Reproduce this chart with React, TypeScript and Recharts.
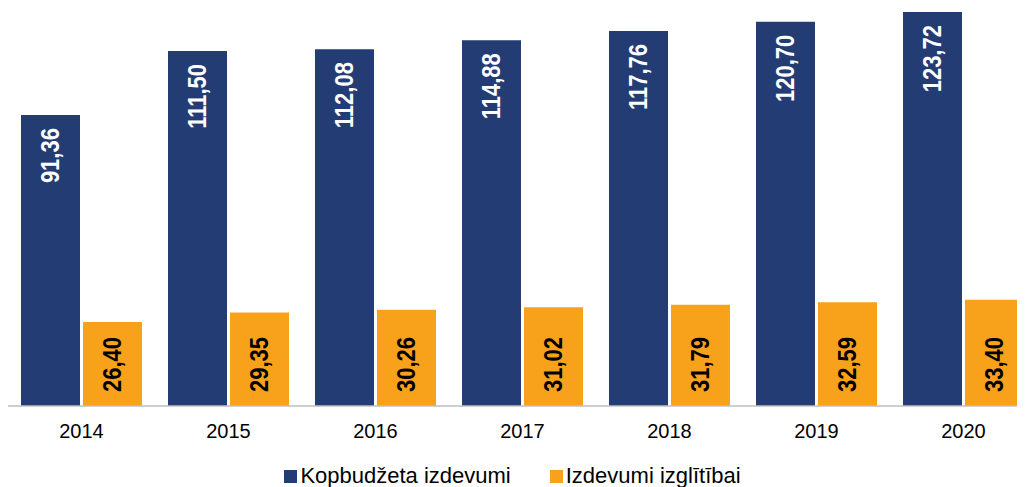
import { BarChart, Bar, XAxis, YAxis, LabelList } from 'recharts';

const years = ['2014', '2015', '2016', '2017', '2018', '2019', '2020'];
const kopbudzets = [91.36, 111.5, 112.08, 114.88, 117.76, 120.7, 123.72];
const izglitiba = [26.4, 29.35, 30.26, 31.02, 31.79, 32.59, 33.4];

const NAVY = '#243c74';
const ORANGE = '#f8a21c';
const FONT = '"Liberation Sans", Arial, sans-serif';

const data = years.map((year, i) => ({
  year,
  kop: kopbudzets[i],
  izg: izglitiba[i],
}));

const fmt = (v: number) => v.toFixed(2).replace('.', ',');

// rotated value label, glyphs slightly widened like the original
const RotLabel = ({ cx, ay, anchor, color, value }: any) => (
  <text
    x={0}
    y={0}
    transform={`translate(${cx} ${ay}) rotate(-90) scale(1 1.15)`}
    textAnchor={anchor}
    dominantBaseline="central"
    fill={color}
    fontSize={22}
    fontWeight="bold"
    fontFamily={FONT}
  >
    {fmt(value)}
  </text>
);

// label near the top of the navy bar
const TopLabel = (props: any) => {
  const { x, y, width, value } = props;
  return <RotLabel cx={x + width / 2} ay={y + 13} anchor="end" color="#fff" value={value} />;
};

// label at the base of the orange bar
const BaseLabel = (props: any) => {
  const { x, y, width, height, value } = props;
  return (
    <RotLabel cx={x + width / 2} ay={y + height - 14} anchor="start" color="#000" value={value} />
  );
};

export default function App() {
  return (
    <div
      style={{
        position: 'relative',
        width: 1017,
        height: 479,
        overflow: 'hidden',
        fontFamily: FONT,
      }}
    >
      <BarChart
        width={1029}
        height={479}
        data={data}
        margin={{ top: 0, right: 0, left: 0, bottom: 41 }}
        barCategoryGap={13}
        barGap={3}
      >
        <XAxis
          dataKey="year"
          height={40}
          tickLine={false}
          tickMargin={12}
          axisLine={{ stroke: '#bfbfbf', strokeWidth: 1.5 }}
          tick={{ fill: '#000', fontSize: 20, fontFamily: FONT }}
        />
        <YAxis hide domain={[0, 125]} />
        <Bar dataKey="kop" fill={NAVY} isAnimationActive={false}>
          <LabelList dataKey="kop" content={<TopLabel />} />
        </Bar>
        <Bar dataKey="izg" fill={ORANGE} isAnimationActive={false}>
          <LabelList dataKey="izg" content={<BaseLabel />} />
        </Bar>
      </BarChart>
      <div
        style={{
          position: 'absolute',
          top: 457,
          left: 0,
          width: 1009,
          display: 'flex',
          justifyContent: 'center',
          alignItems: 'center',
          fontSize: 22,
          color: '#000',
          lineHeight: '22px',
        }}
      >
        <span style={{ display: 'flex', alignItems: 'center', marginRight: 39 }}>
          <span style={{ width: 13, height: 13, background: NAVY, marginRight: 3 }} />
          Kopbudžeta izdevumi
        </span>
        <span style={{ display: 'flex', alignItems: 'center' }}>
          <span style={{ width: 13, height: 13, background: ORANGE, marginRight: 3 }} />
          Izdevumi izglītībai
        </span>
      </div>
    </div>
  );
}
